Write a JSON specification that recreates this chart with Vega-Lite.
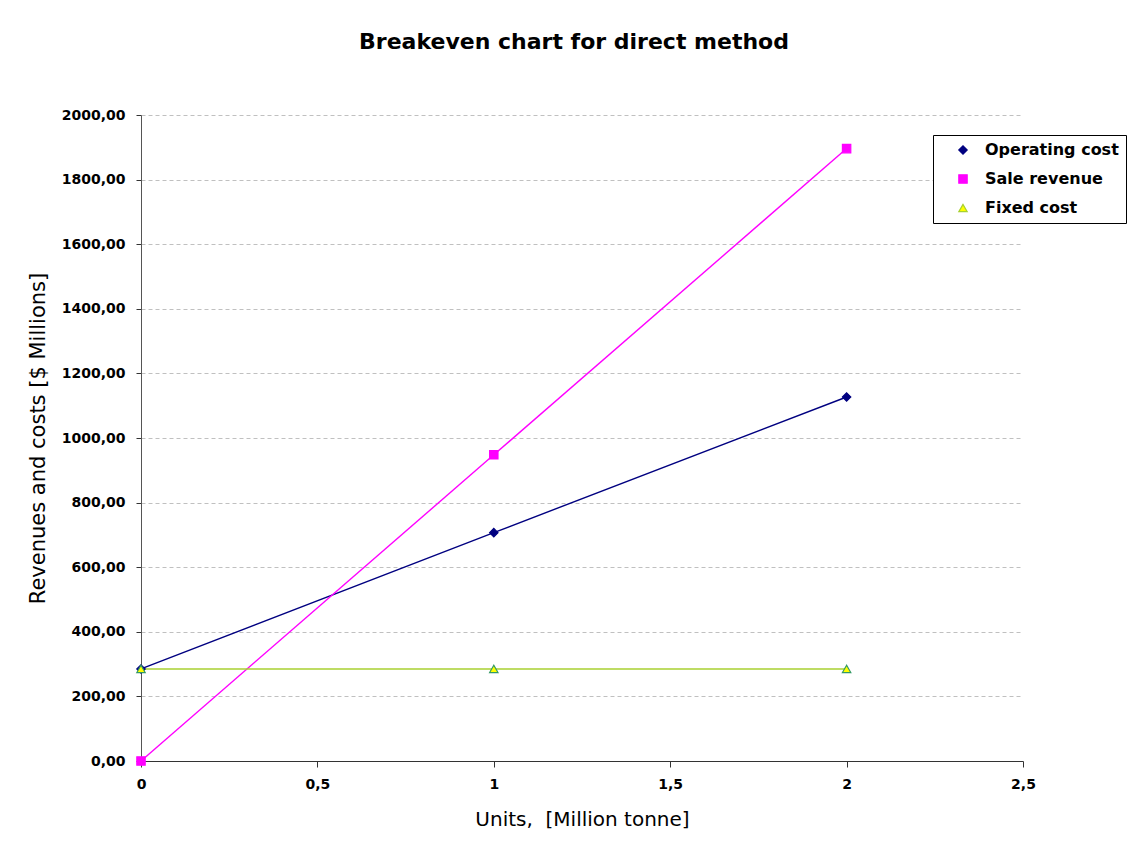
{
  "$schema": "https://vega.github.io/schema/vega-lite/v6.json",
  "width": 882,
  "height": 646,
  "autosize": {"type": "none"},
  "padding": {"left": 141, "top": 115, "right": 123, "bottom": 83},
  "background": "white",
  "config": {
    "locale": {"number": {"decimal": ",", "thousands": "", "grouping": [3], "currency": ["", ""]}},
    "font": "DejaVu Sans",
    "view": {"stroke": null},
    "axis": {"labelFont": "DejaVu Sans", "titleFont": "DejaVu Sans", "labelColor": "black", "titleColor": "black"}
  },
  "title": {"text": "Breakeven chart for direct method", "font": "DejaVu Sans", "fontSize": 22, "fontWeight": "bold", "color": "black", "anchor": "middle", "offset": 54, "dx": -8},
  "data": {"values": [
    {"series": "Operating cost", "x": 0, "y": 285},
    {"series": "Operating cost", "x": 1, "y": 707},
    {"series": "Operating cost", "x": 2, "y": 1127},
    {"series": "Sale revenue", "x": 0, "y": 0},
    {"series": "Sale revenue", "x": 1, "y": 948},
    {"series": "Sale revenue", "x": 2, "y": 1896},
    {"series": "Fixed cost", "x": 0, "y": 285},
    {"series": "Fixed cost", "x": 1, "y": 285},
    {"series": "Fixed cost", "x": 2, "y": 285}
  ]},
  "encoding": {
    "x": {"field": "x", "type": "quantitative", "scale": {"domain": [0, 2.5], "nice": false},
      "axis": {"values": [0, 0.5, 1, 1.5, 2, 2.5], "format": "~g", "grid": false, "title": "Units,\u00a0 [Million tonne]",
        "titleFontSize": 20, "titleFontWeight": "normal", "titlePadding": 18, "labelFontSize": 14, "labelFontWeight": "bold", "labelPadding": 10,
        "domainColor": "#333333", "tickColor": "#333333", "tickSize": 6, "labelFlush": false}},
    "y": {"field": "y", "type": "quantitative", "scale": {"domain": [0, 2000], "nice": false},
      "axis": {"values": [0, 200, 400, 600, 800, 1000, 1200, 1400, 1600, 1800, 2000], "format": ".2f",
        "grid": true, "gridColor": "#c0c0c0", "gridDash": [4, 3], "title": "Revenues and costs [$ Millions]",
        "titleFontSize": 21, "titleFontWeight": "normal", "titlePadding": 13, "labelFontSize": 14, "labelFontWeight": "bold", "labelPadding": 11,
        "domainColor": "#555555", "tickColor": "#333333", "tickSize": 5}}
  },
  "layer": [
    {
      "mark": {"type": "line", "strokeWidth": 1.4},
      "encoding": {
        "color": {"field": "series", "type": "nominal", "title": null,
          "scale": {"domain": ["Operating cost", "Sale revenue", "Fixed cost"], "range": ["#000080", "#ff00ff", "#a8d030"]},
          "legend": {"orient": "none", "legendX": 792, "legendY": 20, "strokeColor": "black", "fillColor": "white",
            "padding": 7, "labelFontSize": 16, "labelFontWeight": "bold", "labelFont": "DejaVu Sans", "labelColor": "black",
            "rowPadding": 13, "symbolSize": 70, "symbolStrokeWidth": 1.2, "symbolOffset": 15, "labelOffset": 14}}
      }
    },
    {
      "mark": {"type": "point", "filled": false, "opacity": 1, "strokeWidth": 1.2, "size": 70},
      "encoding": {
        "shape": {"field": "series", "type": "nominal", "legend": null,
          "scale": {"domain": ["Operating cost", "Sale revenue", "Fixed cost"], "range": ["diamond", "square", "triangle-up"]}},
        "fill": {"field": "series", "type": "nominal", "legend": null,
          "scale": {"domain": ["Operating cost", "Sale revenue", "Fixed cost"], "range": ["#000080", "#ff00ff", "#ffff00"]}},
        "stroke": {"field": "series", "type": "nominal", "legend": null,
          "scale": {"domain": ["Operating cost", "Sale revenue", "Fixed cost"], "range": ["#000080", "#ff00ff", "#339966"]}}
      }
    }
  ]
}
